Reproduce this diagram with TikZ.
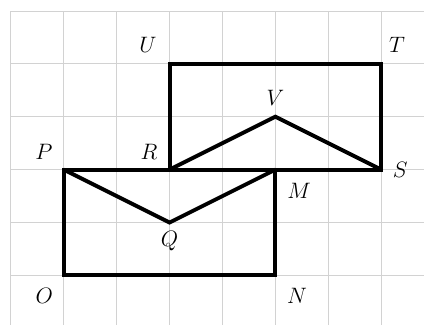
\documentclass[tikz,border=0pt]{standalone}
\begin{document}
\begin{tikzpicture}[
  fig/.style={line width=2.1pt, line join=miter},
  lab/.style={font=\fontsize{12.8}{15}\selectfont, inner sep=0pt}]
\useasboundingbox (-1.207,-0.921) rectangle (6.81,5.207);
\begin{scope}
\clip (-1.207,-0.921) rectangle (6.81,5.207);
\draw[gray!35, line width=0.5pt] (-1,-1) grid (7,5);
\end{scope}
\coordinate (O) at (0,0);
\coordinate (N) at (4,0);
\coordinate (M) at (4,2);
\coordinate (P) at (0,2);
\coordinate (R) at (2,2);
\coordinate (Q) at (2,1);
\coordinate (U) at (2,4);
\coordinate (T) at (6,4);
\coordinate (S) at (6,2);
\coordinate (V) at (4,3);
\draw[fig] (O) -- (N) -- (M) -- (P) -- cycle;
\draw[fig] (P) -- (Q) -- (M);
\draw[fig] (R) -- (U) -- (T) -- (S) -- cycle;
\draw[fig] (R) -- (V) -- (S);
\node[lab] (lU) at (1.59,4.36) {$U$};
\node[lab] (lT) at (6.3,4.36) {$T$};
\node[lab] (lV) at (4.0,3.35) {$V$};
\node[lab] (lP) at (-0.375,2.33) {$P$};
\node[lab] (lR) at (1.61,2.33) {$R$};
\node[lab] (lS) at (6.36,1.99) {$S$};
\node[lab] (lM) at (4.45,1.6) {$M$};
\node[lab] (lQ) at (2.0,0.65) {$Q$};
\node[lab] (lO) at (-0.37,-0.39) {$O$};
\node[lab] (lN) at (4.41,-0.39) {$N$};
\end{tikzpicture}
\end{document}
